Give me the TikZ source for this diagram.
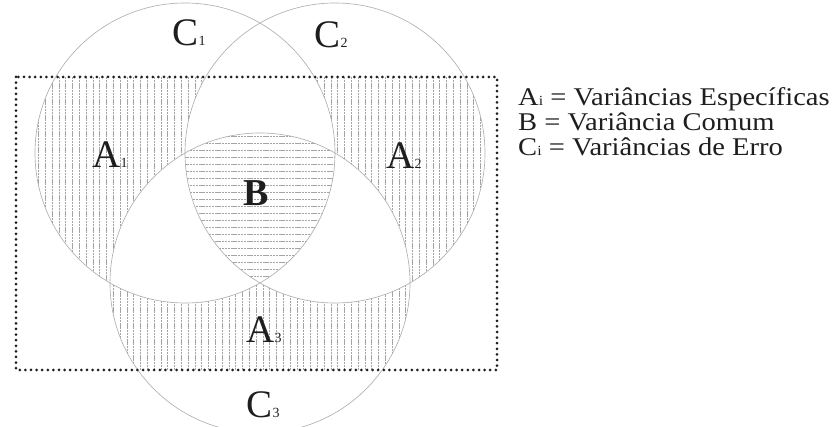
\documentclass[tikz,border=0pt]{standalone}
\usepackage{fontspec}
\setmainfont{Liberation Serif}
\usetikzlibrary{positioning}
\definecolor{Ring}{HTML}{B0B0B0}
\definecolor{Hatch}{HTML}{A4A4A4}
\definecolor{Ink}{HTML}{1E1E1E}
\tikzset{
  ring/.style={draw=Ring,line width=.65pt},
  vhatch/.style={draw=Hatch,line width=.6pt,dash pattern=on 2.4pt off .8pt},
  hhatch/.style={draw=Hatch,line width=.6pt,dash pattern=on 2.4pt off .8pt},
  frame/.style={draw=Ink,line width=3pt,line cap=round,dash pattern=on 0pt off 5.6pt},
  setlabel/.style={font=\fontsize{39}{39}\selectfont,text=Ink,anchor=base,inner sep=0pt},
  legend/.style={font=\fontsize{25.5}{25.5}\selectfont,text=Ink,anchor=base west,inner sep=0pt,xscale=1.12,transform shape}
}
\newcommand\idx[1]{{\fontsize{14}{14}\selectfont #1}}
\newcommand\lidx[1]{{\fontsize{14}{14}\selectfont #1}}

\begin{document}
\begin{tikzpicture}[x=1pt,y=-1pt]
      \useasboundingbox (0,0) rectangle (833,427);
      \coordinate (o1) at (185,153);
      \coordinate (o2) at (335,153);
      \coordinate (o3) at (260,283);
      \coordinate (tl) at (16,77);
      \coordinate (br) at (497,370);
      % vertical hatching inside the frame
      \begin{scope}
        \clip (tl) rectangle (br);
        \foreach \c in {o1,o2,o3} {
          \begin{scope}
            \clip (\c) circle[radius=150pt];
            \foreach \x in {18,24.8,...,500} \draw[vhatch] (\x,0) -- (\x,427);
          \end{scope}
        }
      \end{scope}
      % pairwise overlaps stay blank
      \begin{scope}
        \clip (o1) circle[radius=150pt];
        \fill[white] (o2) circle[radius=150pt];
        \fill[white] (o3) circle[radius=150pt];
      \end{scope}
      \begin{scope}
        \clip (o2) circle[radius=150pt];
        \fill[white] (o3) circle[radius=150pt];
      \end{scope}
      % common part
      \begin{scope}
        \clip (o1) circle[radius=150pt];
        \clip (o2) circle[radius=150pt];
        \clip (o3) circle[radius=150pt];
        \foreach \y in {136,143,...,290} \draw[hhatch] (100,\y) -- (420,\y);
      \end{scope}
      \draw[ring] (o1) circle[radius=150pt];
      \draw[ring] (o2) circle[radius=150pt];
      \draw[ring] (o3) circle[radius=150pt];
      \draw[frame] (tl) rectangle (br);
      % labels
      \node[setlabel] (c1) at (189,46) {C\idx{1}};
      \node[setlabel] (c2) at (331,48) {C\idx{2}};
      \node[setlabel] (c3) at (263,418) {C\idx{3}};
      \node[setlabel] (a1) at (110,168) {A\idx{1}};
      \node[setlabel] (a2) at (404,169) {A\idx{2}};
      \node[setlabel] (a3) at (264,343) {A\idx{3}};
      \node[setlabel,font=\fontsize{38}{38}\selectfont\bfseries] (b) at (256,206) {B};
      \node[legend] (legA) at (518,106) {A\lidx{i} = Variâncias Específicas};
      \node[legend,below=25pt of legA.base west,anchor=base west] (legB) {B = Variância Comum};
      \node[legend,below=25pt of legB.base west,anchor=base west] (legC) {C\lidx{i} = Variâncias de Erro};
    \end{tikzpicture}
\end{document}
